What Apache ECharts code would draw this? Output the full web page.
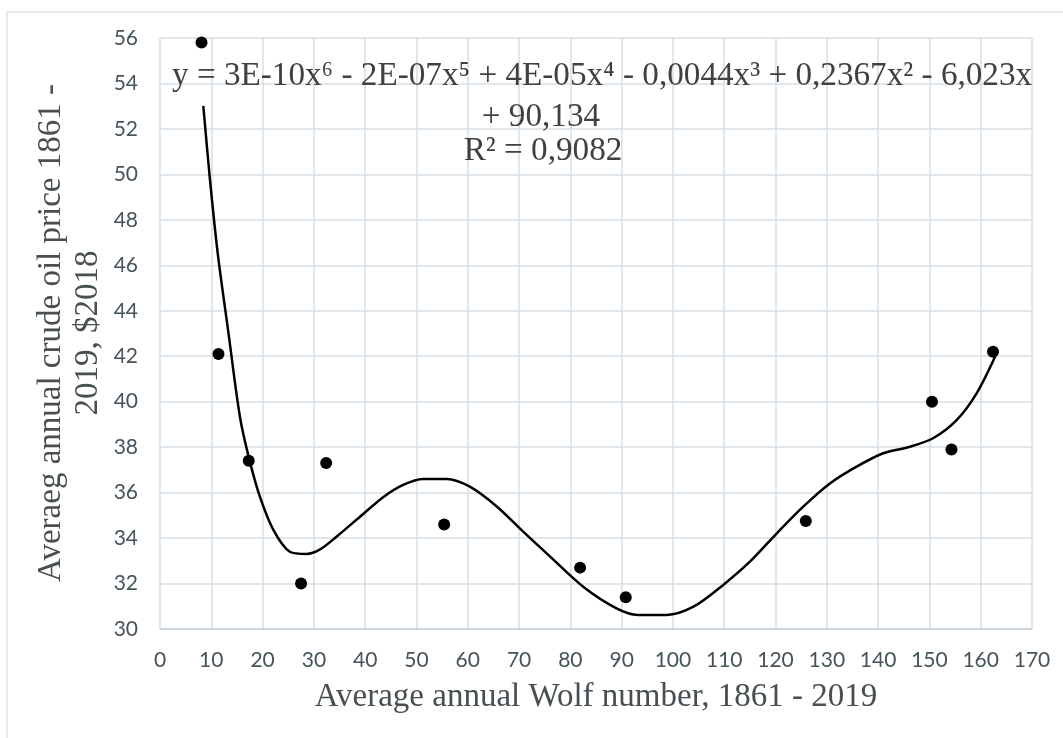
<!DOCTYPE html>
<html>
<head>
<meta charset="utf-8">
<script src="https://cdn.jsdelivr.net/npm/echarts@6/dist/echarts.min.js"></script>
<style>
  html, body { margin: 0; padding: 0; background: #fff; }
  #main { width: 1063px; height: 738px; }
</style>
</head>
<body>
<div id="main"></div>
<script>
// observed points: average annual Wolf number vs average oil price
const wolfNumber = [8.1, 11.4, 17.3, 27.5, 32.4, 55.4, 81.9, 90.8, 125.9, 150.5, 154.3, 162.4];
const oilPrice = [55.8, 42.1, 37.4, 32.0, 37.3, 34.6, 32.7, 31.4, 34.75, 40.0, 37.9, 42.2];

// polynomial trendline
const trendX = [8.44, 9.75, 11.25, 13.35, 15.59, 17.45, 19.49, 22.1, 25.3, 28.6, 31.2, 34.4, 39.0, 43.5, 47.4, 51.3, 55.9, 60.4, 65.6, 70.8, 75.7, 82.5, 89.0, 93.2, 98.8, 104.0, 109.8, 115.0, 120.2, 125.4, 130.6, 135.8, 141.0, 146.2, 150.7, 155.3, 159.2, 162.8];
const trendY = [53.01, 49.75, 46.54, 43.02, 39.33, 37.43, 35.81, 34.36, 33.4, 33.3, 33.5, 34.06, 34.94, 35.8, 36.34, 36.6, 36.6, 36.26, 35.4, 34.28, 33.26, 31.86, 30.91, 30.62, 30.62, 30.98, 31.94, 32.96, 34.2, 35.38, 36.4, 37.14, 37.73, 38.02, 38.39, 39.19, 40.37, 41.98];

const equationLines = [
  'y = 3E-10x\u2076 - 2E-07x\u2075 + 4E-05x\u2074 - 0,0044x\u00b3 + 0,2367x\u00b2 - 6,023x',
  '+ 90,134',
  'R\u00b2 = 0,9082'
];
const xTitle = 'Average annual Wolf number, 1861 - 2019';
const yTitle = 'Averaeg annual crude oil price 1861 -\n2019, $2018';

let myChart = echarts.init(document.getElementById('main'));

const serif = '"Liberation Serif", "DejaVu Serif", serif';
const gridColor = '#d4dee6';

let option = {
  animation: false,
  backgroundColor: '#fff',
  grid: { left: 160, right: 31, top: 38, bottom: 109 },
  xAxis: {
    type: 'value',
    min: 0,
    max: 170,
    interval: 10,
    axisLine: { show: true, lineStyle: { color: '#c6d1d9', width: 1.5 } },
    axisTick: { show: false },
    axisLabel: { color: '#45545b', fontFamily: 'Lato', fontSize: 21, margin: 21 },
    splitLine: { show: true, lineStyle: { color: gridColor, width: 1.5 } }
  },
  yAxis: {
    type: 'value',
    min: 30,
    max: 56,
    interval: 2,
    axisLine: { show: false },
    axisTick: { show: false },
    axisLabel: { color: '#45545b', fontFamily: 'Lato', fontSize: 21, margin: 22 },
    splitLine: { show: true, lineStyle: { color: gridColor, width: 1.5 } }
  },
  graphic: [
    // chart area frame (only top and left edges fall inside the picture)
    { type: 'rect', silent: true, z: -1, shape: { x: 7, y: 12, width: 1200, height: 900 },
      style: { fill: 'none', stroke: '#dce3e8', lineWidth: 1.5 } },
    { type: 'text', left: 172, top: 60, z: 10,
      style: { text: equationLines[0], font: '33.2px ' + serif, fill: '#404040' } },
    { type: 'text', x: 541, y: 134, z: 10,
      style: { text: equationLines[1], font: '33.2px ' + serif, fill: '#404040', textAlign: 'center', textVerticalAlign: 'bottom' } },
    { type: 'text', x: 543, y: 168, z: 10,
      style: { text: equationLines[2], font: '33.2px ' + serif, fill: '#404040', textAlign: 'center', textVerticalAlign: 'bottom' } },
    { type: 'text', x: 596, y: 697,
      style: { text: xTitle, font: '33px ' + serif, fill: '#474f53', textAlign: 'center', textVerticalAlign: 'middle' } },
    { type: 'text', x: 70, y: 333, rotation: Math.PI / 2,
      style: { text: yTitle, font: '33px ' + serif, lineHeight: 37, fill: '#474f53', textAlign: 'center', textVerticalAlign: 'middle' } }
  ],
  series: [
    {
      name: 'trend',
      type: 'line',
      data: trendX.map((x, i) => [x, trendY[i]]),
      smooth: 0.3,
      showSymbol: false,
      lineStyle: { color: '#000', width: 2.5 },
      z: 3
    },
    {
      name: 'points',
      type: 'scatter',
      data: wolfNumber.map((x, i) => [x, oilPrice[i]]),
      symbolSize: 12,
      itemStyle: { color: '#000', opacity: 1 },
      z: 4
    }
  ]
};

myChart.setOption(option);
</script>
</body>
</html>
